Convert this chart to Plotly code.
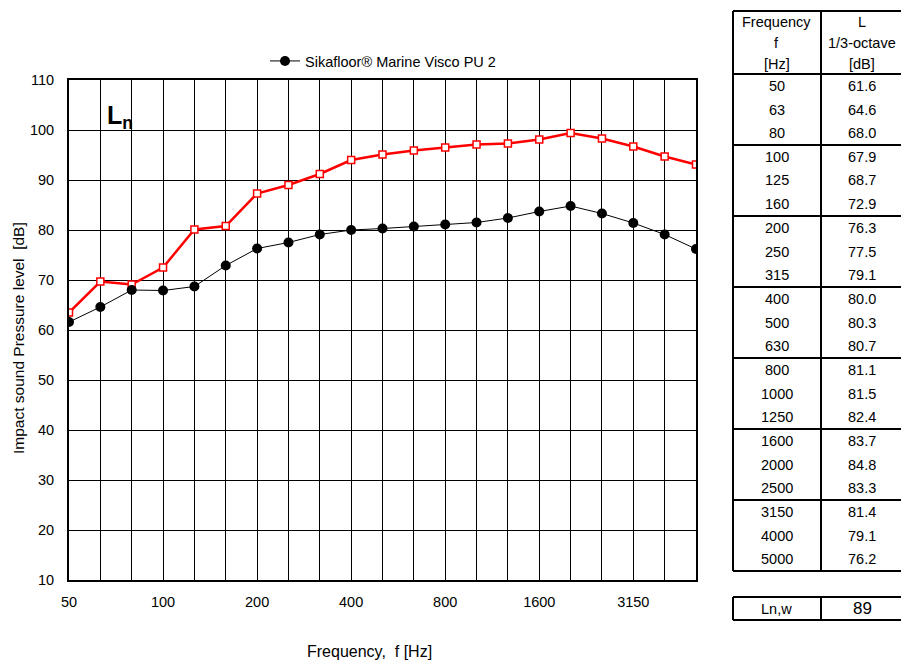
import plotly.graph_objects as go

# ---- data ----
freqs = ["50", "63", "80", "100", "125", "160", "200", "250", "315", "400", "500",
         "630", "800", "1000", "1250", "1600", "2000", "2500", "3150", "4000", "5000"]
sika = [61.6, 64.6, 68.0, 67.9, 68.7, 72.9, 76.3, 77.5, 79.1, 80.0, 80.3,
        80.7, 81.1, 81.5, 82.4, 83.7, 84.8, 83.3, 81.4, 79.1, 76.2]
ref_curve = [63.5, 69.7, 69.1, 72.5, 80.1, 80.8, 87.3, 89.0, 91.2, 94.0, 95.1,
             95.9, 96.5, 97.1, 97.3, 98.1, 99.4, 98.3, 96.7, 94.7, 93.1]
tick_labels = ["50", "100", "200", "400", "800", "1600", "3150"]
ln_w = "89"
series_name = "Sikafloor® Marine Visco PU 2"

FONT = "Liberation Sans, Arial, sans-serif"
W, H = 901, 662
L, R, T, B = 69, 696, 80, 580


def px(x):
    return (x - L) / (R - L)


def py(y):
    return (B - y) / (B - T)


idx = list(range(len(freqs)))
major_vals = [i for i, f in enumerate(freqs) if f in tick_labels]
major_text = [freqs[i] for i in major_vals]

fig = go.Figure()
fig.add_trace(go.Scatter(
    x=idx, y=ref_curve, mode="lines+markers", showlegend=False,
    line=dict(color="#ff0000", width=2.5),
    marker=dict(symbol="square", size=7, color="white",
                line=dict(color="#ff0000", width=1.5)),
))
fig.add_trace(go.Scatter(
    x=idx, y=sika, mode="lines+markers", name=series_name,
    line=dict(color="black", width=1),
    marker=dict(symbol="circle", size=10, color="black"),
))

shapes = []
annotations = []

# table geometry
tl, tm, tr = 733, 821, 903
ttop, thead = 11, 74
grp = 71
row_h = grp / 3.0
c1 = (tl + tm) / 2
c2 = (tm + tr) / 2


def hline(y, x0=tl, x1=tr, w=2):
    shapes.append(dict(type="line", xref="paper", yref="paper",
                       x0=px(x0), x1=px(x1), y0=py(y), y1=py(y),
                       line=dict(color="black", width=w)))


def vline(x, y0, y1, w=2):
    shapes.append(dict(type="line", xref="paper", yref="paper",
                       x0=px(x), x1=px(x), y0=py(y0), y1=py(y1),
                       line=dict(color="black", width=w)))


def text(x, y, s, size=14.5):
    annotations.append(dict(x=px(x), y=py(y), xref="paper", yref="paper",
                            text=s, showarrow=False, xanchor="center",
                            yanchor="middle", font=dict(family=FONT, size=size, color="black")))


tbottom = thead + grp * 7
hline(ttop)
for k in range(8):
    hline(thead + grp * k)
vline(tl, ttop, tbottom)
vline(tm, ttop, tbottom)

for h, yy in zip(["Frequency", "f", "[Hz]"], [22, 43, 64]):
    text(c1, yy, h, 14.5)
for h, yy in zip(["L", "1/3-octave", "[dB]"], [22, 43, 64]):
    text(c2, yy, h, 14.5)

for i, (f, v) in enumerate(zip(freqs, sika)):
    yy = thead + row_h * (i + 0.5)
    text(c1, yy, f)
    text(c2, yy, f"{v:.1f}")

# Ln,w box
b0, b1 = 597, 620
hline(b0)
hline(b1)
vline(tl, b0, b1)
vline(tm, b0, b1)
text(c1, (b0 + b1) / 2, "Ln,w", 14.5)
text(c2, (b0 + b1) / 2, ln_w, 17)

# titles
text(369, 651, "Frequency,  f [Hz]", 16)
annotations.append(dict(x=px(18), y=py(338), xref="paper", yref="paper",
                        text="Impact sound Pressure level  [dB]", textangle=-90,
                        showarrow=False, xanchor="center", yanchor="middle",
                        font=dict(family=FONT, size=15.5, color="black")))
# L_n label
annotations.append(dict(x=px(105), y=py(117), xref="paper", yref="paper",
                        text="<b>L<sub>n</sub></b>", showarrow=False,
                        xanchor="left", yanchor="middle",
                        font=dict(family=FONT, size=25, color="black")))

fig.update_layout(
    width=W, height=H,
    margin=dict(l=L, r=W - R, t=T, b=H - B, pad=0),
    paper_bgcolor="white", plot_bgcolor="white",
    font=dict(family=FONT, size=14.5, color="black"),
    shapes=shapes, annotations=annotations,
    showlegend=True,
    legend=dict(orientation="h", x=px(265), y=py(61), xanchor="left",
                yanchor="middle", bgcolor="rgba(0,0,0,0)",
                font=dict(family=FONT, size=14.5, color="black"),
                itemwidth=30),
    xaxis=dict(range=[0, 20], tickvals=major_vals, ticktext=major_text,
               showgrid=True, gridcolor="black", gridwidth=1,
               minor=dict(dtick=1, tick0=0, showgrid=True, gridcolor="black",
                          gridwidth=1, ticks=""),
               showline=True, linecolor="black", linewidth=2, mirror=True,
               zeroline=False, ticks="", ticklabelstandoff=8,
               tickfont=dict(family=FONT, size=14.5, color="black")),
    yaxis=dict(range=[10, 110], dtick=10, tick0=10,
               showgrid=True, gridcolor="black", gridwidth=1,
               showline=True, linecolor="black", linewidth=2, mirror=True,
               zeroline=False, ticks="", ticklabelstandoff=10,
               tickfont=dict(family=FONT, size=14.5, color="black")),
)

fig.write_html("out.html")
